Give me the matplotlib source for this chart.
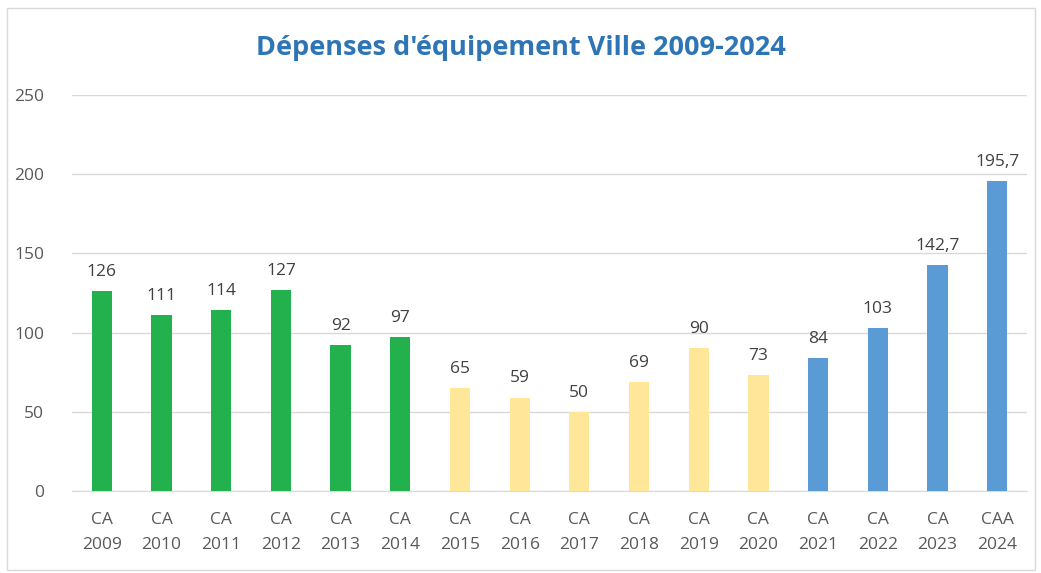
import matplotlib.pyplot as plt
from matplotlib.patches import Rectangle

# data
labels = ["CA\n2009", "CA\n2010", "CA\n2011", "CA\n2012", "CA\n2013", "CA\n2014",
          "CA\n2015", "CA\n2016", "CA\n2017", "CA\n2018", "CA\n2019", "CA\n2020",
          "CA\n2021", "CA\n2022", "CA\n2023", "CAA\n2024"]
values = [126, 111, 114, 127, 92, 97, 65, 59, 50, 69, 90, 73, 84, 103, 142.7, 195.7]
value_text = ["126", "111", "114", "127", "92", "97", "65", "59", "50", "69", "90", "73",
              "84", "103", "142,7", "195,7"]
groups = ["g"] * 6 + ["y"] * 6 + ["b"] * 4
palette = {"g": "#22B14C", "y": "#FFE699", "b": "#5B9BD5"}

plt.rcParams['font.family'] = ['Open Sans', 'DejaVu Sans']

fig = plt.figure(figsize=(10.41, 5.73), dpi=100)
# light frame round the chart
fig.patches.append(Rectangle((7 / 1041, 3 / 573), 1028 / 1041, 562 / 573,
                             transform=fig.transFigure, fill=False,
                             edgecolor="#D9D9D9", linewidth=1))

ax = fig.add_axes([72 / 1041, 82 / 573, 955 / 1041, 396 / 573])
x = list(range(len(values)))
bars = ax.bar(x, values, width=0.34, color=[palette[g] for g in groups], zorder=3)

for xi, v, t in zip(x, values, value_text):
    ax.text(xi, v + 7, t, ha="center", va="bottom", fontsize=12.5, color="#404040")

ax.set_xlim(-0.5, len(values) - 0.5)
ax.set_ylim(0, 250)
ax.set_yticks([0, 50, 100, 150, 200, 250])
ax.set_xticks(x)
ax.set_xticklabels(labels, fontsize=12.5, color="#595959", linespacing=1.75)
ax.tick_params(axis="y", labelsize=12.5, labelcolor="#595959", length=0, pad=20)
ax.tick_params(axis="x", length=0, pad=15)
ax.grid(axis="y", color="#D9D9D9", linewidth=1, zorder=0)
for s in ["top", "right", "left"]:
    ax.spines[s].set_visible(False)
ax.spines["bottom"].set_color("#D9D9D9")

fig.text(0.5, 1 - 48 / 573, "Dépenses d'équipement Ville 2009-2024", ha="center", va="center",
         fontsize=19.5, fontweight="bold", color="#2E75B6")

fig.savefig("out.png", dpi=100)
